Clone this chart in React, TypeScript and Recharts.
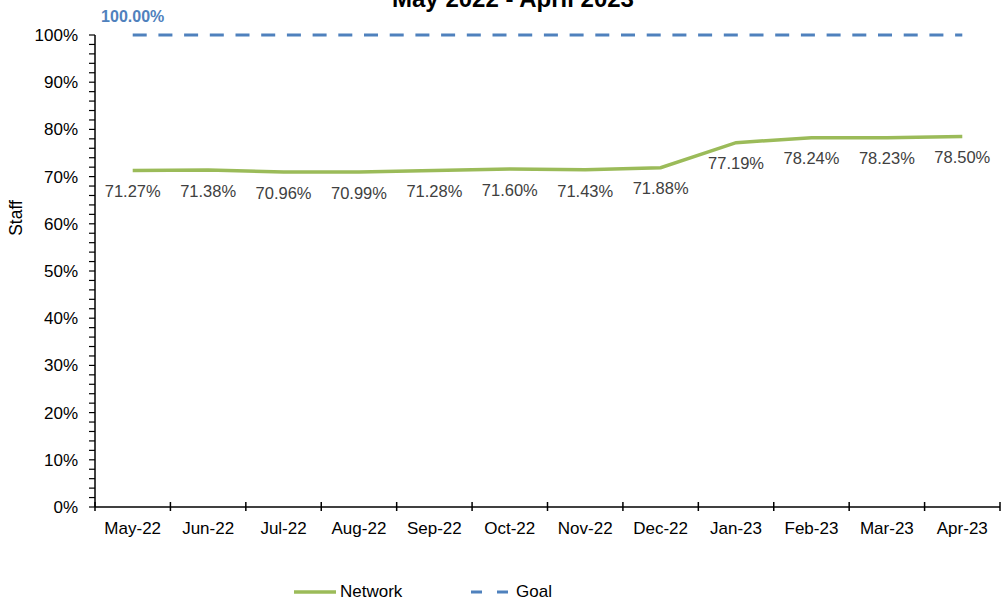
import { LabelList, Line, LineChart, XAxis, YAxis } from "recharts";

const months = ["May-22", "Jun-22", "Jul-22", "Aug-22", "Sep-22", "Oct-22", "Nov-22", "Dec-22", "Jan-23", "Feb-23", "Mar-23", "Apr-23"];
const network = [71.27, 71.38, 70.96, 70.99, 71.28, 71.6, 71.43, 71.88, 77.19, 78.24, 78.23, 78.5];
const goal = [100, 100, 100, 100, 100, 100, 100, 100, 100, 100, 100, 100];
const goalLabels = ["100.00%", "", "", "", "", "", "", "", "", "", "", ""];
const yMajor = [0, 10, 20, 30, 40, 50, 60, 70, 80, 90, 100];

const FONT = "'Liberation Sans', Arial, sans-serif";
const GREEN = "#9bbb59";
const BLUE = "#4f81bd";

const data = months.map((m, i) => ({ x: i + 0.5, month: m, network: network[i], goal: goal[i], goalLabel: goalLabels[i] }));

// boundaries between months get tick marks, the centres get the labels
const xTicks = [...months.flatMap((_, i) => [i, i + 0.5]), months.length];
// 2% minor ticks on the value axis
const yTicks = Array.from({ length: 51 }, (_, i) => i * 2);

function XTick({ x, y, payload }: any) {
  const v = payload.value as number;
  if (Number.isInteger(v)) return <line x1={x} x2={x} y1={y - 5} y2={y + 4} stroke="#000" strokeWidth={1.5} />;
  return (
    <text x={x} y={y + 27} textAnchor="middle" fontSize={17} fill="#000" fontFamily={FONT}>
      {months[Math.floor(v)]}
    </text>
  );
}

function YTick({ x, y, payload }: any) {
  const v = payload.value as number;
  if (!yMajor.includes(v)) return <g />;
  return (
    <text x={x} y={y} dy={6} textAnchor="end" fontSize={17} fill="#000" fontFamily={FONT}>
      {v}%
    </text>
  );
}

function StaffLabel() {
  return (
    <text x={22} y={218} transform="rotate(-90 22 218)" textAnchor="middle" fontSize={17.5} fill="#000" fontFamily={FONT}>
      Staff
    </text>
  );
}

function GoalLabel({ x, y, value }: any) {
  if (!value) return null;
  return (
    <text x={x} y={y - 13} textAnchor="middle" fontSize={16} fontWeight="bold" fill={BLUE} fontFamily={FONT}>
      {value}
    </text>
  );
}

export default function App() {
  return (
    <div style={{ position: "absolute", left: 0, top: 0, width: 1001, height: 602, overflow: "hidden", background: "#fff", fontFamily: FONT }}>
      <div style={{ position: "absolute", top: -13, left: 0, width: 1026, textAlign: "center", fontSize: 24, lineHeight: "24px", fontWeight: "bold", color: "#000" }}>
        May 2022 - April 2023
      </div>
      <LineChart width={1001} height={602} data={data} margin={{ top: 35, right: 1, left: 0, bottom: 55 }} style={{ fontFamily: FONT }}>
        <XAxis
          dataKey="x"
          type="number"
          domain={[0, months.length]}
          ticks={xTicks}
          interval={0}
          height={40}
          tickSize={0}
          tickMargin={0}
          tickLine={false}
          axisLine={{ stroke: "#000", strokeWidth: 1.5 }}
          tick={<XTick />}
        />
        <YAxis
          type="number"
          domain={[0, 100]}
          ticks={yTicks}
          interval={0}
          width={95}
          tickSize={6}
          tickMargin={11}
          tickLine={{ stroke: "#000", strokeWidth: 1.2 }}
          axisLine={{ stroke: "#000", strokeWidth: 1.5 }}
          tick={<YTick />}
          label={<StaffLabel />}
        />
        <Line dataKey="goal" stroke={BLUE} strokeWidth={3} strokeDasharray="14 11.7" dot={false} isAnimationActive={false}>
          <LabelList dataKey="goalLabel" content={<GoalLabel />} />
        </Line>
        <Line dataKey="network" stroke={GREEN} strokeWidth={3.5} dot={false} isAnimationActive={false}>
          <LabelList
            dataKey="network"
            position="bottom"
            offset={15}
            fontSize={16.5}
            fill="#404040"
            formatter={(v: any) => `${Number(v).toFixed(2)}%`}
          />
        </Line>
      </LineChart>
      <div style={{ position: "absolute", top: 582, left: 0, width: 1001, height: 20, fontSize: 17, color: "#000" }}>
        <svg width={42} height={6} style={{ position: "absolute", left: 294, top: 7 }}>
          <line x1={0} x2={42} y1={3} y2={3} stroke={GREEN} strokeWidth={3.5} />
        </svg>
        <span style={{ position: "absolute", left: 340, top: 0, lineHeight: "20px" }}>Network</span>
        <svg width={42} height={6} style={{ position: "absolute", left: 471, top: 7 }}>
          <line x1={0} x2={41} y1={3} y2={3} stroke={BLUE} strokeWidth={3} strokeDasharray="11 15" />
        </svg>
        <span style={{ position: "absolute", left: 516, top: 0, lineHeight: "20px" }}>Goal</span>
      </div>
    </div>
  );
}
